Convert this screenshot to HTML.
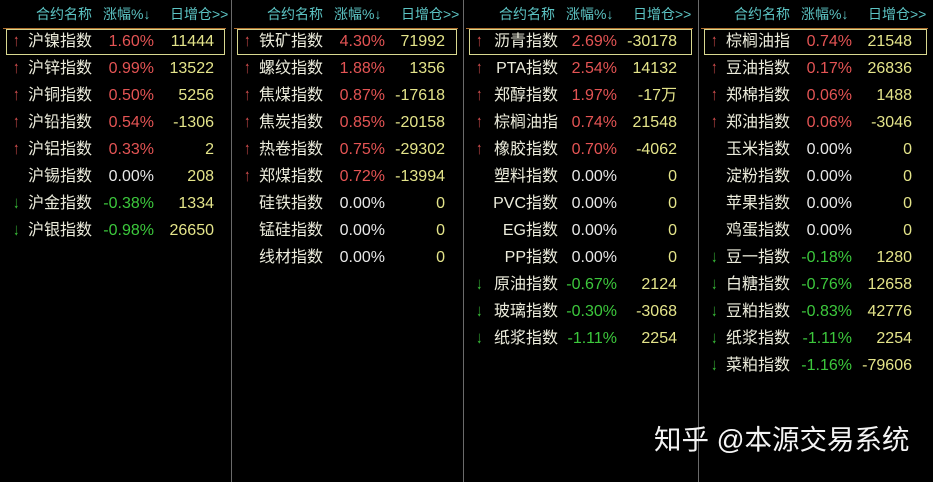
<!DOCTYPE html>
<html><head><meta charset="utf-8">
<style>
body{margin:0;width:933px;height:482px;background:#000;overflow:hidden;position:relative;font-family:"Liberation Sans","Noto Sans CJK SC",sans-serif;}
.t{position:absolute;white-space:nowrap;font-size:16px;line-height:20px;}
.vl{position:absolute;top:0;width:1px;height:482px;background:#6a6a6a;}
.hl{position:absolute;top:28px;height:1px;background:#b07030;}
.sel{position:absolute;top:29px;height:26px;border:1px solid #d8d890;box-sizing:border-box;}
.hd{color:#5cc4c4;font-size:14px;}
.ar{font-size:17px;transform:scaleX(0.7);}
</style></head><body>
<div id="root"></div>
<div class="t" style="left:654px;top:423px;font-size:27.5px;line-height:34px;color:#f4f4f4;">知乎 @本源交易系统</div>
<script>
const panelOffsets=[0,231,463,698];
const names=[
["沪镍指数","沪锌指数","沪铜指数","沪铅指数","沪铝指数","沪锡指数","沪金指数","沪银指数"],
["铁矿指数","螺纹指数","焦煤指数","焦炭指数","热卷指数","郑煤指数","硅铁指数","锰硅指数","线材指数"],
["沥青指数","PTA指数","郑醇指数","棕榈油指","橡胶指数","塑料指数","PVC指数","EG指数","PP指数","原油指数","玻璃指数","纸浆指数"],
["棕榈油指","豆油指数","郑棉指数","郑油指数","玉米指数","淀粉指数","苹果指数","鸡蛋指数","豆一指数","白糖指数","豆粕指数","纸浆指数","菜粕指数"]];
const changes=[
[1.60,0.99,0.50,0.54,0.33,0.00,-0.38,-0.98],
[4.30,1.88,0.87,0.85,0.75,0.72,0.00,0.00,0.00],
[2.69,2.54,1.97,0.74,0.70,0.00,0.00,0.00,0.00,-0.67,-0.30,-1.11],
[0.74,0.17,0.06,0.06,0.00,0.00,0.00,0.00,-0.18,-0.76,-0.83,-1.11,-1.16]];
const oiChange=[
["11444","13522","5256","-1306","2","208","1334","26650"],
["71992","1356","-17618","-20158","-29302","-13994","0","0","0"],
["-30178","14132","-17万","21548","-4062","0","0","0","0","2124","-3068","2254"],
["21548","26836","1488","-3046","0","0","0","0","1280","12658","42776","2254","-79606"]];
const root=document.getElementById('root');
function add(html){const d=document.createElement('div');d.innerHTML=html;const e=d.firstChild;root.appendChild(e);return e;}
panelOffsets.forEach((ox,p)=>{
  const w=(p<3?panelOffsets[p+1]:933)-ox;
  if(p>0){const v=add('<div class="vl"></div>');v.style.left=(ox)+'px';
    
    }
  const hl=add('<div class="hl"></div>');hl.style.left=(ox+3)+'px';hl.style.width=(w-8)+'px';
  
  
  const h1=add('<div class="t hd">合约名称</div>');h1.style.left=(ox+36)+'px';h1.style.top='4px';
  
  
  const h2=add('<div class="t hd">涨幅%↓</div>');h2.style.left=(ox+103)+'px';h2.style.top='4px';
  
  
  const h3=add('<div class="t hd">日增仓&gt;&gt;</div>');h3.style.left=(ox+170)+'px';h3.style.top='4px';
  
  
  const sel=add('<div class="sel"></div>');sel.style.left=(ox+6)+'px';sel.style.width=(w-12)+'px';
  
  
  names[p].forEach((n,i)=>{
    const c=changes[p][i];const y=32+i*27;
    const col=c>0?'#e45454':(c<0?'#3cc83c':'#e8e8e8');
    if(c!==0){const a=add('<div class="t ar">'+(c>0?'↑':'↓')+'</div>');a.style.left=(ox+12)+'px';a.style.top=(y-1)+'px';a.style.color=col;
      
      }
    const nm=add('<div class="t"></div>');nm.textContent=n;nm.style.color='#ececdc';nm.style.top=y+'px';
    if(p===2){nm.style.right=(933-(ox+95))+'px';}else{nm.style.left=(ox+28)+'px';}
    
    
    const pc=add('<div class="t"></div>');pc.textContent=c.toFixed(2)+'%';pc.style.color=col;pc.style.top=y+'px';pc.style.right=(933-(ox+154))+'px';
    
    
    const v=add('<div class="t"></div>');v.textContent=oiChange[p][i];v.style.color='#e4e48a';v.style.top=y+'px';v.style.right=(933-(ox+214))+'px';
    
    
  });
});
</script>
</body></html>
